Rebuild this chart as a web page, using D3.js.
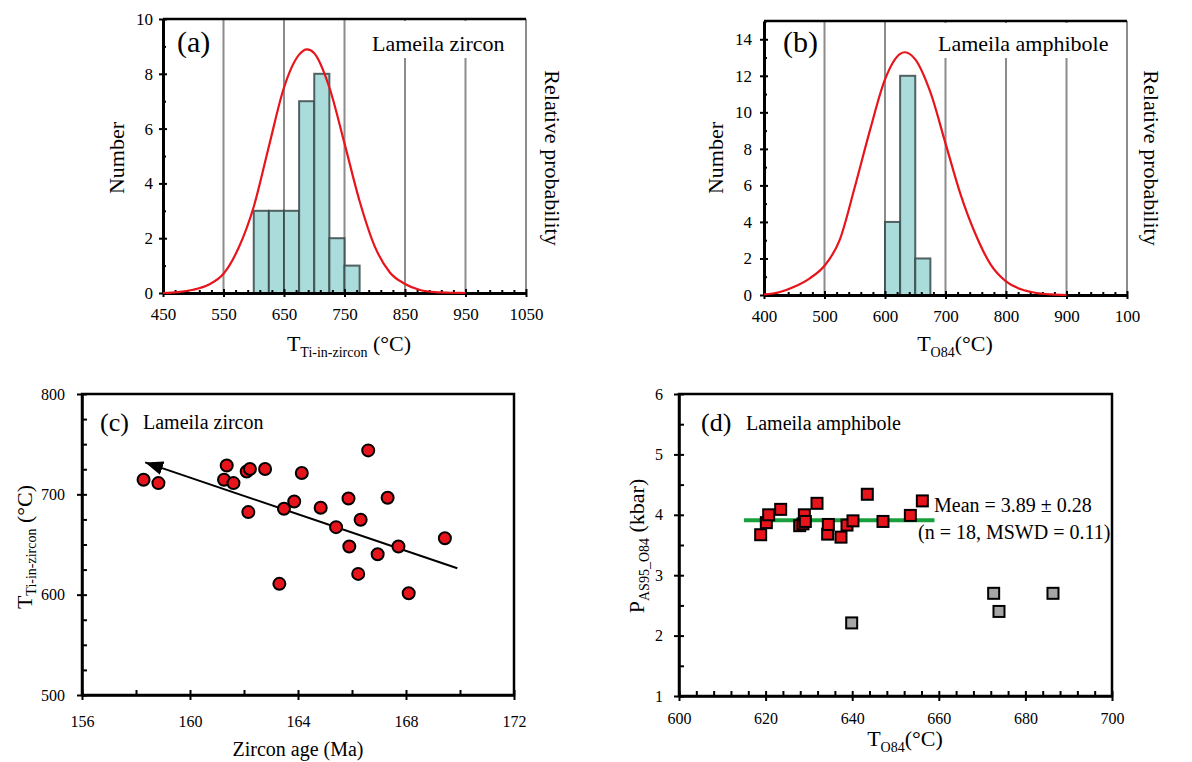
<!DOCTYPE html>
<html>
<head>
<meta charset="utf-8">
<script src="https://cdn.jsdelivr.net/npm/d3@7/dist/d3.min.js"></script>
<style>
  body { margin: 0; background: #fff; }
  text { font-family: 'Liberation Serif', 'Times New Roman', serif; fill: #000; }
</style>
</head>
<body>
<script>
const SERIF = "'Liberation Serif', 'Times New Roman', serif";

// ---- (a) Ti-in-zircon temperatures, histogram + probability curve
const binStartsA = [600, 625, 650, 675, 700, 725, 750];
const countsA = [3, 3, 3, 7, 8, 2, 1];
const curveTA = [450, 475, 500, 525, 550, 575, 600, 625, 650, 675, 688, 700, 725, 750, 775, 800, 825, 850, 875, 900, 925, 950];
const curveNA = [0.0, 0.03, 0.12, 0.3, 0.7, 1.65, 3.15, 5.35, 7.5, 8.7, 8.89, 8.75, 7.5, 5.46, 3.35, 1.7, 0.75, 0.33, 0.11, 0.03, 0.01, 0.0];
const xTicksA = [450, 550, 650, 750, 850, 950, 1050];
const yTicksA = [0, 2, 4, 6, 8, 10];

// ---- (b) amphibole temperatures
const binStartsB = [600, 625, 650];
const countsB = [4, 12, 2];
const curveTB = [400, 425, 450, 475, 500, 525, 550, 575, 600, 625, 633, 650, 675, 700, 725, 750, 775, 800, 825, 850, 875, 900];
const curveNB = [0.03, 0.15, 0.45, 0.9, 1.6, 3.0, 5.9, 9.0, 11.8, 13.2, 13.29, 12.9, 11.1, 8.3, 5.5, 3.3, 1.65, 0.75, 0.31, 0.11, 0.03, 0.0];
const xTicksB = [400, 500, 600, 700, 800, 900, 1000];
const xTickLabelsB = ["400", "500", "600", "700", "800", "900", "100"];
const yTicksB = [0, 2, 4, 6, 8, 10, 12, 14];

// ---- (c) zircon age vs temperature
const ageC = [158.28, 158.83, 161.36, 161.26, 161.61, 162.10, 162.22, 162.16, 162.78, 164.14, 163.48, 163.86, 163.31,
  164.84, 165.41, 165.87, 166.60, 166.32, 165.90, 166.23, 166.95, 167.32, 167.72, 168.10, 169.44];
const tempC = [714.5, 711.2, 728.8, 714.5, 711.2, 722.8, 725.2, 682.3, 725.2, 721.2, 685.6, 692.9, 610.8,
  686.6, 667.3, 695.9, 743.8, 674.6, 648.0, 620.7, 640.3, 696.6, 648.0, 601.4, 656.3];
const trendAge = [169.9, 158.34];
const trendTemp = [626.4, 731.8];

// ---- (d) amphibole T-P
const tRed = [618.86, 620.17, 620.71, 623.48, 627.87, 628.64, 628.95, 629.18, 631.87, 634.33, 634.49, 637.41, 638.80, 640.18, 643.49, 647.11, 653.43, 656.20];
const pRed = [3.67, 3.87, 4.00, 4.09, 3.82, 3.85, 4.00, 3.89, 4.19, 3.68, 3.84, 3.63, 3.83, 3.90, 4.34, 3.89, 3.99, 4.23];
const tGray = [639.88, 672.67, 673.90, 686.37];
const pGray = [2.21, 2.70, 2.40, 2.70];
const meanT = [615, 659];
const meanP = 3.91;

const svg = d3.select("body").append("svg").attr("width", 1192).attr("height", 762);

function range(a, b, s) { const r = []; for (let v = a; v <= b + 1e-9; v += s) r.push(+v.toFixed(4)); return r; }

function styleAxis(sel, w) {
  sel.attr("font-family", SERIF);
  sel.select(".domain").attr("stroke", "#000").attr("stroke-width", w);
  sel.selectAll(".tick line").attr("stroke", "#000").attr("stroke-width", 2);
  sel.selectAll("text").attr("font-family", SERIF).attr("fill", "#000");
}

// x and y axes with labels, crossing major ticks and inner minor ticks
function drawAxes(g, x, y, o) {
  const y0 = y.range()[0], x0 = x.range()[0];
  const bx = g.append("g").attr("transform", `translate(0,${y0})`)
    .call(d3.axisBottom(x).tickValues(o.xTicks).tickSize(0).tickSizeOuter(0).tickPadding(o.xPad)
      .tickFormat((d, i) => o.xLabels ? o.xLabels[i] : String(d)));
  bx.selectAll("text").attr("font-size", o.fs);
  styleAxis(bx, o.axisW);
  [o.majLen, -o.majLen].forEach(s => styleAxis(g.append("g").attr("class", "tk").attr("transform", `translate(0,${y0})`)
    .call(d3.axisBottom(x).tickValues(o.xTicks).tickSize(s).tickSizeOuter(0).tickFormat("")), 0));
  styleAxis(g.append("g").attr("class", "tk").attr("transform", `translate(0,${y0})`)
    .call(d3.axisBottom(x).tickValues(o.xMinor).tickSize(-o.minLen).tickSizeOuter(0).tickFormat("")), 0);

  const ly = g.append("g").attr("transform", `translate(${x0},0)`)
    .call(d3.axisLeft(y).tickValues(o.yTicks).tickSize(0).tickSizeOuter(0).tickPadding(o.yPad).tickFormat(d => String(d)));
  ly.selectAll("text").attr("font-size", o.fs);
  styleAxis(ly, o.axisW);
  [o.majLen, -o.majLen].forEach(s => styleAxis(g.append("g").attr("class", "tk").attr("transform", `translate(${x0},0)`)
    .call(d3.axisLeft(y).tickValues(o.yTicks).tickSize(s).tickSizeOuter(0).tickFormat("")), 0));
  styleAxis(g.append("g").attr("class", "tk").attr("transform", `translate(${x0},0)`)
    .call(d3.axisLeft(y).tickValues(o.yMinor).tickSize(-o.minLen).tickSizeOuter(0).tickFormat("")), 0);
  g.selectAll("g.tk .domain").remove();
}

function histPanel(o) {
  const g = svg.append("g");
  const x = d3.scaleLinear().domain(o.xDomain).range(o.xRange);
  const y = d3.scaleLinear().domain(o.yDomain).range(o.yRange);
  // vertical gray grid lines
  g.selectAll("line.grid").data(o.xTicks.slice(1)).join("line")
    .attr("x1", d => x(d)).attr("x2", d => x(d))
    .attr("y1", y(o.yDomain[0])).attr("y2", y(o.yDomain[1]))
    .attr("stroke", "#8c8c8c").attr("stroke-width", 2);
  // white box behind the sample label
  g.append("rect").attr("x", o.box[0]).attr("y", o.box[1]).attr("width", o.box[2]).attr("height", o.box[3]).attr("fill", "#fff");
  // histogram
  g.selectAll("rect.bar").data(o.bins.map((b, i) => ({ b, n: o.counts[i] }))).join("rect")
    .attr("x", d => x(d.b)).attr("width", d => x(d.b + 25) - x(d.b))
    .attr("y", d => y(d.n)).attr("height", d => y(0) - y(d.n))
    .attr("fill", "#aadcdc").attr("stroke", "#3a4848").attr("stroke-opacity", 0.85).attr("stroke-width", 2);
  // top border
  g.append("line").attr("x1", o.xRange[0]).attr("x2", o.xRange[1]).attr("y1", o.yRange[1]).attr("y2", o.yRange[1])
    .attr("stroke", "#000").attr("stroke-width", 2.5);
  drawAxes(g, x, y, {
    xTicks: o.xTicks, xLabels: o.xLabels, xMinor: range(o.xDomain[0], o.xDomain[1], 20).filter(v => !o.xTicks.includes(v)),
    yTicks: o.yTicks, yMinor: range(o.yDomain[0] + 1, o.yDomain[1], 2),
    fs: 17, xPad: 15, yPad: o.yPad, axisW: 3, majLen: 4, minLen: 3
  });
  // probability curve
  const line = d3.line().x((d, i) => x(o.curveT[i])).y(d => y(d)).curve(d3.curveMonotoneX);
  g.append("path").datum(o.curveN).attr("d", line).attr("fill", "none").attr("stroke", "#e8141b").attr("stroke-width", 2.2);

  g.append("text").attr("x", o.tagX).attr("y", 52).attr("font-size", 30).text(o.tag);
  g.append("text").attr("x", o.nameX).attr("y", 51).attr("font-size", 22).text(o.name);
  g.append("text").attr("transform", `translate(${o.numX},158) rotate(-90)`).attr("text-anchor", "middle")
    .attr("font-size", 22).text("Number");
  g.append("text").attr("transform", `translate(${o.relX},158) rotate(90)`).attr("text-anchor", "middle")
    .attr("font-size", 22).text("Relative probability");
  const t = g.append("text").attr("x", o.titleX).attr("y", 351).attr("text-anchor", "middle").attr("font-size", 22);
  t.append("tspan").text("T");
  t.append("tspan").attr("font-size", 14).attr("dy", 6).text(o.sub);
  t.append("tspan").attr("dy", -6).text(o.unit);
}

histPanel({
  xDomain: [450, 1050], xRange: [163, 526], yDomain: [0, 10], yRange: [293, 19],
  xTicks: xTicksA, yTicks: yTicksA, bins: binStartsA, counts: countsA,
  curveT: curveTA, curveN: curveNA, box: [364, 21, 152, 37], yPad: 10,
  tag: "(a)", tagX: 177, name: "Lameila zircon", nameX: 372,
  numX: 124, relX: 545, titleX: 349, sub: "Ti-in-zircon", unit: " (°C)"
});
histPanel({
  xDomain: [400, 1000], xRange: [764, 1127], yDomain: [0, 15], yRange: [295, 21],
  xTicks: xTicksB, xLabels: xTickLabelsB, yTicks: yTicksB, bins: binStartsB, counts: countsB,
  curveT: curveTB, curveN: curveNB, box: [932, 23, 188, 35], yPad: 12,
  tag: "(b)", tagX: 783, name: "Lameila amphibole", nameX: 938,
  numX: 723, relX: 1144, titleX: 955, sub: "O84", unit: "(°C)"
});

// ---- (c)
{
  const g = svg.append("g");
  const x = d3.scaleLinear().domain([156, 172]).range([82, 514]);
  const y = d3.scaleLinear().domain([500, 800]).range([695, 394]);
  g.append("rect").attr("x", 82).attr("y", 394).attr("width", 432).attr("height", 301)
    .attr("fill", "none").attr("stroke", "#000").attr("stroke-width", 2.5);
  drawAxes(g, x, y, {
    xTicks: range(156, 172, 4), xMinor: range(158, 170, 4), yTicks: range(500, 800, 100),
    yMinor: range(525, 775, 25).filter(v => v % 100 !== 0), fs: 16, xPad: 21, yPad: 17, axisW: 2.5, majLen: 5, minLen: 5
  });
  svg.append("defs").append("marker").attr("id", "arr").attr("markerUnits", "userSpaceOnUse")
    .attr("markerWidth", 20).attr("markerHeight", 14).attr("refX", 18).attr("refY", 7).attr("orient", "auto")
    .append("path").attr("d", "M0,0 L18,7 L0,14 Z").attr("fill", "#000");
  g.append("line").attr("x1", x(trendAge[0])).attr("y1", y(trendTemp[0]))
    .attr("x2", x(trendAge[1])).attr("y2", y(trendTemp[1]))
    .attr("stroke", "#000").attr("stroke-width", 2).attr("marker-end", "url(#arr)");
  g.selectAll("circle").data(ageC).join("circle")
    .attr("cx", d => x(d)).attr("cy", (d, i) => y(tempC[i])).attr("r", 6)
    .attr("fill", "#e8141b").attr("stroke", "#000").attr("stroke-width", 2);
  g.append("text").attr("x", 100).attr("y", 431).attr("font-size", 26).text("(c)");
  g.append("text").attr("x", 143).attr("y", 429).attr("font-size", 20).text("Lameila zircon");
  g.append("text").attr("x", 298).attr("y", 756).attr("text-anchor", "middle").attr("font-size", 20).text("Zircon age (Ma)");
  const t = g.append("text").attr("transform", "translate(32,547) rotate(-90)").attr("text-anchor", "middle").attr("font-size", 22);
  t.append("tspan").text("T");
  t.append("tspan").attr("font-size", 14).attr("dy", 4).text("Ti-in-zircon");
  t.append("tspan").attr("dy", -4).text(" (°C)");
}

// ---- (d)
{
  const g = svg.append("g");
  const x = d3.scaleLinear().domain([600, 700]).range([679, 1112]);
  const y = d3.scaleLinear().domain([1, 6]).range([696, 394]);
  g.append("rect").attr("x", 679).attr("y", 394).attr("width", 433).attr("height", 302)
    .attr("fill", "none").attr("stroke", "#000").attr("stroke-width", 2.5);
  drawAxes(g, x, y, {
    xTicks: range(600, 700, 20), xMinor: range(604, 696, 4).filter(v => v % 20 !== 0), yTicks: range(1, 6, 1),
    yMinor: range(1.5, 5.5, 1), fs: 16, xPad: 17, yPad: 16, axisW: 2.5, majLen: 5, minLen: 5
  });
  g.append("line").attr("x1", x(meanT[0])).attr("x2", x(meanT[1])).attr("y1", y(meanP)).attr("y2", y(meanP))
    .attr("stroke", "#17a03c").attr("stroke-width", 4);
  const s = 11;
  g.selectAll("rect.gray").data(tGray).join("rect")
    .attr("x", d => x(d) - s / 2).attr("y", (d, i) => y(pGray[i]) - s / 2).attr("width", s).attr("height", s)
    .attr("fill", "#a6a6a6").attr("stroke", "#000").attr("stroke-width", 2);
  g.selectAll("rect.red").data(tRed).join("rect")
    .attr("x", d => x(d) - s / 2).attr("y", (d, i) => y(pRed[i]) - s / 2).attr("width", s).attr("height", s)
    .attr("fill", "#e8141b").attr("stroke", "#000").attr("stroke-width", 2);
  g.append("text").attr("x", 701).attr("y", 431).attr("font-size", 26).text("(d)");
  g.append("text").attr("x", 746).attr("y", 430).attr("font-size", 20).text("Lameila amphibole");
  g.append("text").attr("x", 934).attr("y", 512).attr("font-size", 20).text("Mean = 3.89 ± 0.28");
  g.append("text").attr("x", 918).attr("y", 539).attr("font-size", 20).text("(n = 18, MSWD = 0.11)");
  const t = g.append("text").attr("x", 905).attr("y", 746).attr("text-anchor", "middle").attr("font-size", 22);
  t.append("tspan").text("T");
  t.append("tspan").attr("font-size", 14).attr("dy", 6).text("O84");
  t.append("tspan").attr("dy", -6).text("(°C)");
  const ty = g.append("text").attr("transform", "translate(644,546) rotate(-90)").attr("text-anchor", "middle").attr("font-size", 22);
  ty.append("tspan").text("P");
  ty.append("tspan").attr("font-size", 14).attr("dy", 5).text("AS95_O84");
  ty.append("tspan").attr("dy", -5).text(" (kbar)");
}
</script>
</body>
</html>
